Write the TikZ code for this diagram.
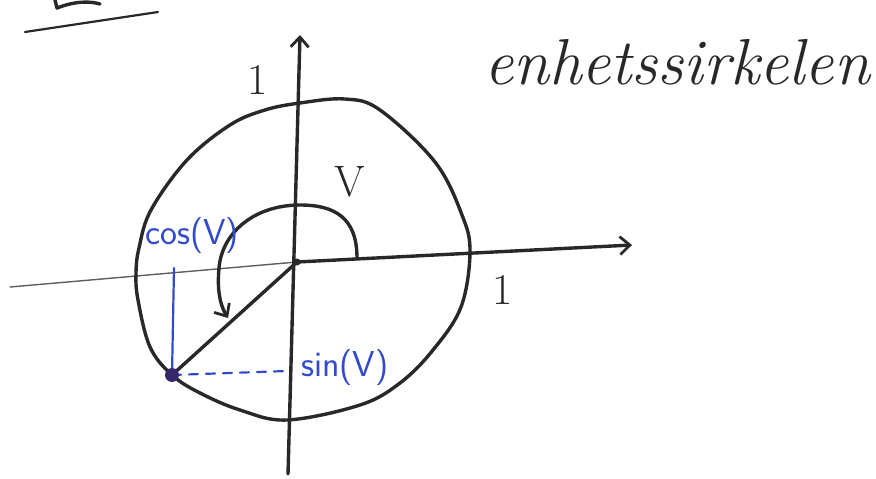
\documentclass[tikz,border=0pt]{standalone}
\usetikzlibrary{arrows.meta}
\definecolor{pen}{RGB}{40,40,40}
\definecolor{bluepen}{RGB}{50,75,205}
\definecolor{dotc}{RGB}{55,40,110}
\begin{document}
\begin{tikzpicture}[x=1pt,y=-1pt,
  stroke/.style={draw=pen,line width=3.4pt,line cap=round,line join=round},
  thinstroke/.style={draw=pen!75,line width=1.4pt,line cap=round},
  bluestroke/.style={draw=bluepen,line width=2.2pt,line cap=round},
  barb/.style={-{Straight Barb[length=10pt,width=18pt,line width=2.8pt]}},
  hand/.style={text=pen,font=\fontsize{44}{44}\selectfont,inner sep=0pt},
  bluelabel/.style={text=bluepen,font=\sffamily\fontsize{36}{36}\selectfont,inner sep=0pt}]
\useasboundingbox (0,0) rectangle (876,479);
% heading fragment
\draw[stroke,line width=3.4pt] (55,0) -- (57,8) .. controls (75,1) and (90,1) .. (100,4);
\draw[stroke,line width=2.2pt] (25,32) -- (158,12);
% coordinates
\coordinate (O) at (297,262);
\coordinate (xl) at (10,287);
\coordinate (xr) at (632,245);
\coordinate (yt) at (300,35);
\coordinate (yb) at (288,474);
\coordinate (P) at (172,375);
% axes
\draw[thinstroke] (xl) -- (O);
\draw[stroke,barb] (O) -- (xr);
\draw[stroke,barb] (yb) -- (yt);
% unit circle (hand drawn)
\draw[stroke] plot[smooth cycle,tension=0.6] coordinates {
 (300,103) (345,99) (380,110) (435,162) (462,215) (470,252) (461,307)
 (433,350) (400,383) (360,405) (287,420) (240,410) (200,393) (172,375)
 (150,347) (138,300) (136,273) (139,248) (151,210) (187,160) (230,125) (265,110)};
% radius
\draw[stroke] (O) -- (P);
\fill[pen] (O) circle (3.5pt);
% angle arc
\draw[stroke,barb] (357,258) .. controls (357,218) and (335,205) .. (300,205)
  .. controls (255,205) and (222,232) .. (219,268)
  .. controls (217,290) and (220,305) .. (228,318);
% blue projections
\coordinate (cb) at (174,268);
\coordinate (sr) at (287,371);
\draw[bluestroke] (cb) -- (P);
\draw[bluestroke,dash pattern=on 9pt off 8pt] (P) -- (sr);
\fill[dotc] (P) circle (7pt);
% labels
\node[hand] (one1) at (258,80) {1};
\node[hand] (one2) at (503,290) {1};
\node[hand] (v) at (350,182) {V};
\node[bluelabel] (cos) at (192,236) {cos(V)};
\node[bluelabel] (sin) at (345,368) {sin(V)};
\node[text=pen,font=\fontsize{65}{65}\selectfont\itshape,inner sep=0pt,anchor=base] (title) at (677,84) {enhetssirkelen};
\end{tikzpicture}
\end{document}
